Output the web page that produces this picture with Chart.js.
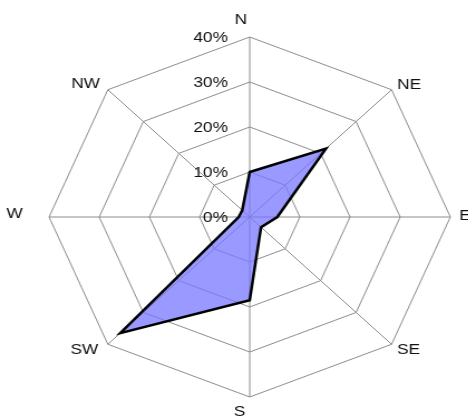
<!DOCTYPE html>
<html>
<head>
<meta charset="utf-8">
<script src="https://cdn.jsdelivr.net/npm/chart.js@4.4.0/dist/chart.umd.min.js"></script>
<style>
  html, body { margin: 0; padding: 0; background: #fff; overflow: hidden; }
  /* the reference is drawn a little wider than tall, so stretch the canvas */
  #wrap { position: absolute; left: 0; top: 0; width: 420px; height: 419px; transform: scaleX(1.1147); transform-origin: 0 0; }
</style>
</head>
<body>
<div id="wrap"><canvas id="rose"></canvas></div>
<script>
const directions = ["N", "NE", "E", "SE", "S", "SW", "W", "NW"];
const frequency = [10, 21.5, 5.5, 3.2, 18.5, 36.5, 2.2, 2.1];
const tickValues = [0, 10, 20, 30, 40];
const tickLabels = ["0%", "10%", "20%", "30%", "40%"];

const FONT = "15.5px 'Liberation Sans', Arial, sans-serif";

// where each compass label sits relative to the tip of its spoke
const labelPlace = {
  N: { align: "center", dx: -8, dy: -17 },
  NE: { align: "left", dx: 5, dy: -5 },
  E: { align: "left", dx: 8, dy: -1 },
  SE: { align: "left", dx: 5, dy: 5 },
  S: { align: "center", dx: -9, dy: 15 },
  SW: { align: "right", dx: -8.5, dy: 5 },
  W: { align: "right", dx: -23.5, dy: -3 },
  NW: { align: "right", dx: -7, dy: -6 },
};

const compassText = {
  id: "compassText",
  afterDraw(chart) {
    const scale = chart.scales.r;
    const ctx = chart.ctx;
    ctx.save();
    ctx.font = FONT;
    ctx.fillStyle = "#111";
    ctx.textBaseline = "middle";
    directions.forEach((dir, i) => {
      const tip = scale.getPointPositionForValue(i, scale.max);
      const p = labelPlace[dir];
      ctx.textAlign = p.align;
      ctx.fillText(dir, tip.x + p.dx, tip.y + p.dy);
    });
    ctx.textAlign = "right";
    tickValues.forEach((v, i) => {
      const d = scale.getDistanceFromCenterForValue(v);
      ctx.fillText(tickLabels[i], scale.xCenter - 19.5, scale.yCenter - d + 1);
    });
    ctx.restore();
  },
};

new Chart(document.getElementById("rose"), {
  type: "radar",
  data: {
    labels: directions,
    datasets: [
      {
        data: frequency,
        borderColor: "#000",
        borderWidth: 2.5,
        backgroundColor: "rgba(119, 119, 255, 0.75)",
        fill: true,
        pointRadius: 0,
        tension: 0,
      },
    ],
  },
  options: {
    responsive: true,
    maintainAspectRatio: false,
    animation: false,
    layout: { padding: { left: 44, right: 16, top: 37, bottom: 22 } },
    plugins: {
      legend: { display: false },
      tooltip: { enabled: false },
    },
    scales: {
      r: {
        min: 0,
        max: 40,
        ticks: { display: false, stepSize: 10 },
        pointLabels: { display: false },
        grid: { color: "#8c8c8c", lineWidth: 1 },
        angleLines: { color: "#8c8c8c", lineWidth: 1 },
      },
    },
  },
  plugins: [compassText],
});
</script>
</body>
</html>
